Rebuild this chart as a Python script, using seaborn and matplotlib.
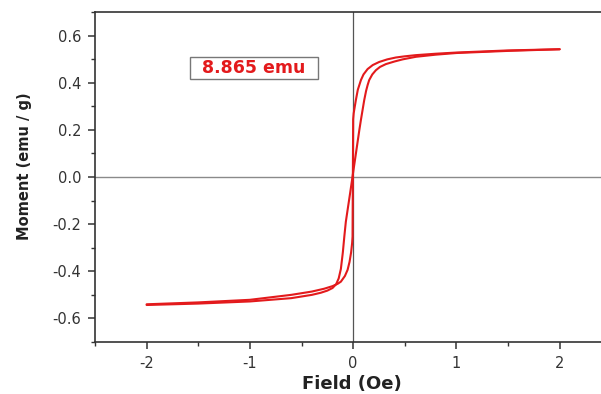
import matplotlib
matplotlib.use("Agg")
import matplotlib.pyplot as plt
from matplotlib.ticker import MultipleLocator
from matplotlib.patches import Rectangle
import seaborn as sns
import pandas as pd

# Branch A (steep branch, field from -2 to +2)
a_field = [-2.0, -1.5, -1.0, -0.6, -0.4, -0.281, -0.2, -0.15, -0.119, -0.08, -0.054, -0.035,
           -0.02, -0.01, -0.006, -0.003, 0.0, 0.005, 0.01, 0.026, 0.045, 0.075, 0.1, 0.14,
           0.19, 0.252, 0.33, 0.414, 0.5, 0.608, 0.8, 1.0, 1.5, 2.0]
a_moment = [-0.540, -0.532, -0.521, -0.500, -0.486, -0.474, -0.463, -0.453, -0.444, -0.42, -0.394, -0.36,
            -0.32, -0.28, -0.253, 0.0, 0.245, 0.27, 0.284, 0.326, 0.37, 0.411, 0.435, 0.458,
            0.475, 0.488, 0.499, 0.507, 0.512, 0.517, 0.523, 0.528, 0.537, 0.542]

# Branch B (slanted branch, field from +2 to -2)
b_field = [2.0, 1.5, 1.0, 0.8, 0.608, 0.479, 0.4, 0.317, 0.26, 0.22, 0.185, 0.155, 0.14,
           0.125, 0.107, 0.091, 0.075, 0.06, 0.03, 0.0, -0.03, -0.054, -0.071, -0.085, -0.1,
           -0.119, -0.14, -0.165, -0.2, -0.25, -0.313, -0.4, -0.6, -1.0, -1.5, -2.0]
b_moment = [0.542, 0.535, 0.526, 0.519, 0.510, 0.499, 0.490, 0.479, 0.467, 0.453, 0.435, 0.411, 0.39,
            0.365, 0.326, 0.284, 0.242, 0.20, 0.11, 0.02, -0.07, -0.14, -0.19, -0.25, -0.32,
            -0.39, -0.43, -0.455, -0.471, -0.482, -0.491, -0.500, -0.514, -0.528, -0.537, -0.543]

annotation = "8.865 emu"
x_ticks = [-2, -1, 0, 1, 2]
y_ticks = [-0.6, -0.4, -0.2, 0.0, 0.2, 0.4, 0.6]

sns.set_style("ticks")
plt.rcParams['font.family'] = ['DejaVu Sans']

df = pd.DataFrame({
    "field": a_field + b_field,
    "moment": a_moment + b_moment,
    "branch": ["A"] * len(a_field) + ["B"] * len(b_field),
})

fig = plt.figure(figsize=(6.01, 3.94), dpi=100)
ax = fig.add_axes([95 / 601, 52 / 394, 506 / 601, 330 / 394])

ax.axhline(0, color="#8a8a8a", lw=1.0, zorder=1)
ax.axvline(0, color="#555555", lw=0.9, zorder=1)

sns.lineplot(data=df, x="field", y="moment", units="branch", estimator=None, sort=False,
             color="#e31a1c", lw=1.5, ax=ax, zorder=3)

ax.set_xlim(-2.5, 2.40)
ax.set_ylim(-0.7, 0.7)
ax.set_xticks(x_ticks)
ax.set_xticklabels([str(t) for t in x_ticks])
ax.set_yticks(y_ticks)
ax.set_yticklabels([f"{t:.1f}" for t in y_ticks])
ax.xaxis.set_minor_locator(MultipleLocator(0.5))
ax.yaxis.set_minor_locator(MultipleLocator(0.1))
ax.tick_params(axis="both", which="major", length=5, width=1.1, color="#333333",
               labelsize=10.5, labelcolor="#333333", direction="out", pad=5)
ax.tick_params(axis="both", which="minor", length=3, width=1.0, color="#333333", direction="out")

for s in ["left", "bottom", "top"]:
    ax.spines[s].set_visible(True)
    ax.spines[s].set_color("#333333")
    ax.spines[s].set_linewidth(1.2)
ax.spines["right"].set_visible(False)

ax.set_xlabel("Field (Oe)", fontsize=13, fontweight="bold", color="#222222")
ax.set_ylabel("Moment (emu / g)", fontsize=10.5, fontweight="bold", color="#222222")
ax.xaxis.set_label_coords(0.508, -0.10)
ax.yaxis.set_label_coords(-0.125, 0.533)

ax.add_patch(Rectangle((-1.582, 0.415), 1.24, 0.093, fill=False, ec="#777777", lw=1.0, zorder=4))
ax.text(-0.96, 0.462, annotation, color="#e31a1c", fontsize=12.5, fontweight="bold",
        ha="center", va="center", zorder=5)

fig.savefig("out.png", dpi=100)
